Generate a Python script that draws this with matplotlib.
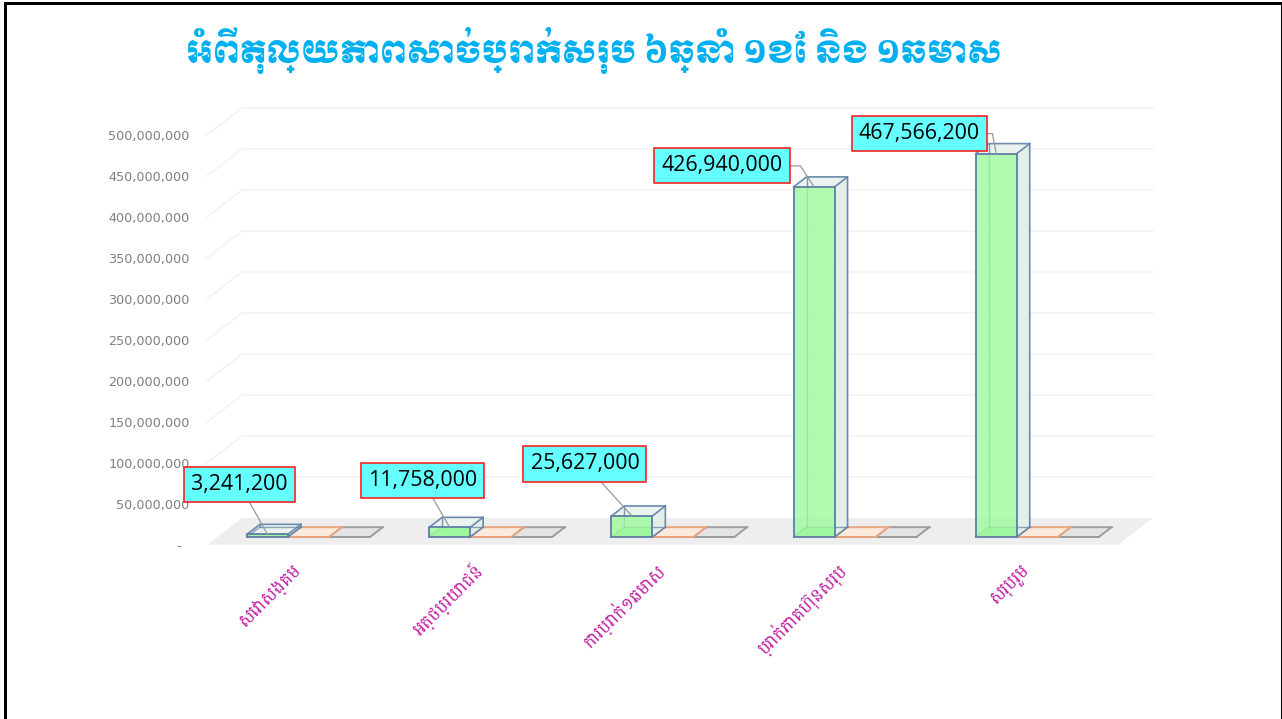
""" 3D style column chart of the cash balance, drawn on plain 2d axes"""
import matplotlib
matplotlib.use("Agg")
import matplotlib.pyplot as plt
from matplotlib.ticker import FuncFormatter

titleText = "អំពីតុល្យភាពសាច់ប្រាក់សរុប ៦ឆ្នាំ ១ខែ និង ១ឆមាស"
categories = ["សេវាសង្គម", "អត្ថប្រយោជន៍", "ការប្រាក់១ឆមាស", "ប្រាក់ភាគហ៊ុនសរុប", "សរុបរួម"]
seriesOne = [3241200, 11758000, 25627000, 426940000, 467566200]
seriesTwo = [0, 0, 0, 0, 0]
seriesThree = [0, 0, 0, 0, 0]
yTicks = [0, 50000000, 100000000, 150000000, 200000000, 250000000, 300000000, 350000000, 400000000, 450000000, 500000000]

# layout, in pixels of the 1282x719 picture
figWidth, figHeight = 1282, 719
plotLeft, plotRight, plotTop, plotBottom = 207, 1118, 135, 545
depthPx = (35, 27)
barDepthRange = (8 / 27, 18 / 27)
barWidth = 0.225
labelOffsets = [(-28, 50), (-27, 47), (-47, 52), (-92, 21), (-77, 20)]
leaderAngles = [None, None, None, 123, 101]

# style per series: front, side, top, edge
seriesStyles = [
	("#9dfb9d", "#e3efe9", "#eaf3ee", "#5f7ea6"),
	("#fdf0e6", "#fdf0e6", "#fbe9dc", "#e8a47c"),
	("#e6e6e6", "#e6e6e6", "#e4e4e4", "#9c9c9c"),
]

fig = plt.figure(figsize=(figWidth / 100, figHeight / 100), dpi=100, facecolor="white")
ax = fig.add_axes([
	plotLeft / figWidth,
	1 - plotBottom / figHeight,
	(plotRight - plotLeft) / figWidth,
	(plotBottom - plotTop) / figHeight,
])
ax.set_xlim(0, len(categories))
ax.set_ylim(0, yTicks[-1])
ax.patch.set_visible(False)
for spine in ax.spines.values():
	spine.set_visible(False)

depthX = depthPx[0] * len(categories) / (plotRight - plotLeft)
depthY = depthPx[1] * yTicks[-1] / (plotBottom - plotTop)


def project(x, value, depth):
	""" Shift a point of the front plane back along the depth direction."""
	return x + depth * depthX, value + depth * depthY


def fill_face(points, color, alpha, zorder):
	xs, ys = zip(*points)
	ax.fill(xs, ys, facecolor=color, edgecolor="none", alpha=alpha, zorder=zorder, clip_on=False)


def draw_edges(points, color, width, alpha, zorder):
	xs, ys = zip(*points)
	ax.plot(xs, ys, color=color, lw=width, alpha=alpha, zorder=zorder, clip_on=False, solid_joinstyle="round")


def draw_box(left, value, style, zorder):
	""" One glass looking column: back edges first, then side, top and front."""
	front, side, top, edge = style
	near, far = barDepthRange
	right = left + barWidth
	nearLeftLow = project(left, 0, near)
	nearRightLow = project(right, 0, near)
	nearLeftTop = project(left, value, near)
	nearRightTop = project(right, value, near)
	farLeftLow = project(left, 0, far)
	farRightLow = project(right, 0, far)
	farLeftTop = project(left, value, far)
	farRightTop = project(right, value, far)

	fill_face([nearLeftLow, nearRightLow, farRightLow, farLeftLow], side if value == 0 else "#8fe88f", 0.75, zorder)
	fill_face([nearRightLow, farRightLow, farRightTop, nearRightTop], side, 1, zorder + 0.1)
	fill_face([nearLeftTop, nearRightTop, farRightTop, farLeftTop], top, 1, zorder + 0.1)
	draw_edges([farLeftLow, farRightLow], edge, 1.0, 0.7, zorder + 0.2)
	draw_edges([farLeftLow, farLeftTop], edge, 1.0, 0.8, zorder + 0.2)
	draw_edges([nearLeftLow, farLeftLow], edge, 1.0, 0.7, zorder + 0.2)
	draw_edges([nearLeftTop, farLeftTop, farRightTop, nearRightTop], edge, 1.2, 0.9, zorder + 0.3)
	draw_edges([farRightTop, farRightLow, nearRightLow], edge, 1.2, 0.9, zorder + 0.3)
	if value > 0:
		fill_face([nearLeftLow, nearRightLow, nearRightTop, nearLeftTop], front, 0.8, zorder + 0.4)
	draw_edges([nearLeftLow, nearRightLow, nearRightTop, nearLeftTop, nearLeftLow], edge, 1.3, 1, zorder + 0.5)


# floor and the two walls
floorCorners = [project(0, 0, 0), project(len(categories), 0, 0), project(len(categories), 0, 1), project(0, 0, 1)]
fill_face(floorCorners, "#eeeeee", 1, 1)
for tick in yTicks[1:]:
	xs, ys = zip(project(0, tick, 0), project(0, tick, 1), project(len(categories), tick, 1))
	ax.plot(xs, ys, color="#f3f3f3", lw=1.2, zorder=0.5, clip_on=False)

# columns, the first series goes on top of the empty ones
allSeries = [seriesOne, seriesTwo, seriesThree]
gap = (1 - barWidth * len(allSeries)) / 2
for seriesIndex in reversed(range(len(allSeries))):
	for catIndex, value in enumerate(allSeries[seriesIndex]):
		left = catIndex + gap + seriesIndex * barWidth
		draw_box(left, value, seriesStyles[seriesIndex], 2 + (2 - seriesIndex) + catIndex * 3)

# callouts
for catIndex, value in enumerate(seriesOne):
	anchor = project(catIndex + gap + barWidth / 2, value, barDepthRange[0])
	arrowStyle = dict(arrowstyle="-", color="#9a9a9a", lw=0.9, shrinkA=0, shrinkB=0)
	if leaderAngles[catIndex] is not None:
		arrowStyle.update(relpos=(1, 0.5), connectionstyle=f"angle,angleA=0,angleB={leaderAngles[catIndex]},rad=0")
	ax.annotate(
		f"{value:,}",
		xy=anchor,
		xytext=labelOffsets[catIndex],
		textcoords="offset pixels",
		ha="center",
		va="center",
		fontsize=15.4,
		family="Open Sans",
		color="black",
		bbox=dict(boxstyle="square,pad=0.33", facecolor="#66ffff", edgecolor="#ff1010", lw=1.1),
		arrowprops=arrowStyle,
		zorder=40,
		annotation_clip=False,
	)

# axes text
ax.set_yticks(yTicks)
ax.yaxis.set_major_formatter(FuncFormatter(lambda v, pos: f"{v:,.0f}" if v else "-  "))
ax.tick_params(axis="y", length=0, pad=12.5, labelsize=9.2, labelcolor="#7f7f7f")
ax.set_xticks([i + 0.5 for i in range(len(categories))])
ax.set_xticklabels(categories, rotation=45, ha="right", va="center", rotation_mode="anchor", fontsize=13, color="#c020a4", family=["Battambang", "DejaVu Sans"])
ax.tick_params(axis="x", length=0, pad=16)

fig.text(594 / figWidth, 1 - 50 / figHeight, titleText, ha="center", va="center", fontsize=22, color="#00b0f0", family=["Moul", "DejaVu Sans"])

# slide border around the picture
for xs, ys, lw in [
	([5.3, 5.3], [719, 3.3], 3),
	([5.3, 1281], [3.3, 3.3], 3),
	([1280.5, 1280.5], [3.3, 719], 1),
]:
	fig.add_artist(plt.Line2D([x / figWidth for x in xs], [1 - y / figHeight for y in ys], color="black", lw=lw * 0.72))

fig.savefig("out.png", dpi=100)
